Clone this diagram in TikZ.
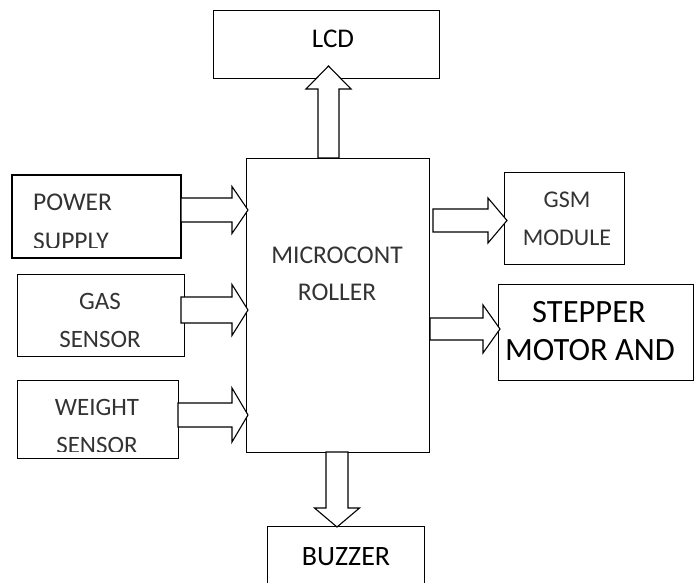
\documentclass[tikz,border=0pt]{standalone}
\usepackage{fontspec}
\setmainfont{Carlito}
\usetikzlibrary{calc}

\tikzset{
  blk/.style={draw, line width=0.8pt, inner sep=0pt, outer sep=0pt},
  barrow/.style={draw, fill=white, line width=1.1pt, line join=miter},
  lbl/.style={inner sep=0pt, anchor=base, font=\fontsize{#1}{#1}\selectfont},
  thin lbl/.style={lbl=#1, text=black!80},
}
% hollow block arrow: tail, tip, shaft half width, head half width, head length
\newcommand\blockarrow[5]{%
  \path ($(#2)!#5!(#1)$) coordinate (hb);
  \draw[barrow] ($(#1)!#3!90:(#2)$) -- ($(hb)!#3!90:(#2)$) -- ($(hb)!#4!90:(#2)$) -- (#2)
    -- ($(hb)!#4!-90:(#2)$) -- ($(hb)!#3!-90:(#2)$) -- ($(#1)!#3!-90:(#2)$) -- cycle;
}

\begin{document}
\begin{tikzpicture}[x=1pt, y=-1pt]
\useasboundingbox (0,0) rectangle (697,583);
\clip (0,0) rectangle (697,583);
% blocks
\node[blk, minimum width=226pt, minimum height=68pt] (lcd) at (326,44) {};
\node[blk, minimum width=183pt, minimum height=294pt] (mcu) at (337.5,305) {};
\node[blk, line width=1.6pt, minimum width=169pt, minimum height=83pt] (ps) at (96.5,216.5) {};
\node[blk, minimum width=167pt, minimum height=82pt] (gas) at (100.5,315) {};
\node[blk, minimum width=161pt, minimum height=78pt] (wt) at (97.5,419) {};
\node[blk, minimum width=120pt, minimum height=92pt] (gsm) at (564,218) {};
\node[blk, minimum width=195pt, minimum height=96pt] (stp) at (595.5,332) {};
\node[blk, minimum width=157pt, minimum height=74pt] (buz) at (345.5,563) {};
% labels
\node[lbl=27] (lcd-t) at (333,48) {LCD};
\begin{scope}
  \clip (ps.north west) rectangle ($(ps.south east)+(0,-10)$);
  \node[thin lbl=25.5, anchor=base west] (ps-t1) at (33,211) {POWER};
  \node[thin lbl=25.5, anchor=base west] (ps-t2) at (33,250) {SUPPLY};
\end{scope}
\node[thin lbl=25] (gas-t1) at (100,309) {GAS};
\node[thin lbl=25] (gas-t2) at (100,347) {SENSOR};
\begin{scope}
  \clip (wt.north west) rectangle ($(wt.south east)+(0,-7)$);
  \node[thin lbl=25] (wt-t1) at (97,415) {WEIGHT};
  \node[thin lbl=25] (wt-t2) at (97,453) {SENSOR};
\end{scope}
\node[thin lbl=25.5] (mcu-t1) at (337,263) {MICROCONT};
\node[thin lbl=25.5] (mcu-t2) at (337,300) {ROLLER};
\node[thin lbl=24] (gsm-t1) at (567,208) {GSM};
\node[thin lbl=24] (gsm-t2) at (567,246) {MODULE};
\node[lbl=32.5] (stp-t1) at (589,322) {STEPPER};
\node[lbl=32.5] (stp-t2) at (590,360) {MOTOR AND};
\node[lbl=28] (buz-t) at (346,565) {BUZZER};
% arrow ends
\coordinate (ps-a) at ($(ps.east)+(0,-6.5)$);
\coordinate (ps-b) at ($(ps-a -| mcu.west)+(2,0)$);
\coordinate (gas-a) at ($(gas.east)+(-3,-5)$);
\coordinate (gas-b) at ($(gas-a -| mcu.west)+(2,0)$);
\coordinate (wt-a) at ($(wt.east)+(0,-4)$);
\coordinate (wt-b) at ($(wt-a -| mcu.west)+(2,0)$);
\coordinate (gsm-b) at ($(gsm.west)+(3,2.5)$);
\coordinate (gsm-a) at ($(gsm-b -| mcu.east)+(4,0)$);
\coordinate (stp-b) at ($(stp.west)+(2,-3)$);
\coordinate (stp-a) at ($(stp-b -| mcu.east)+(1,0)$);
\coordinate (lcd-a) at ($(mcu.north)+(-9,0)$);
\coordinate (lcd-b) at ($(lcd-a |- lcd.south)+(0,-12)$);
\coordinate (buz-a) at ($(mcu.south)+(-0.5,0)$);
\coordinate (buz-b) at ($(buz-a |- buz.north)+(0,1)$);
% block arrows
\blockarrow{ps-a}{ps-b}{12pt}{23.5pt}{16pt}
\blockarrow{gas-a}{gas-b}{13pt}{25.5pt}{16pt}
\blockarrow{wt-a}{wt-b}{12pt}{27pt}{16pt}
\blockarrow{gsm-a}{gsm-b}{11.5pt}{22.5pt}{19pt}
\blockarrow{stp-a}{stp-b}{11pt}{24pt}{17pt}
\blockarrow{lcd-a}{lcd-b}{10.5pt}{22.5pt}{23pt}
\blockarrow{buz-a}{buz-b}{11pt}{22.5pt}{19pt}
\end{tikzpicture}
\end{document}
